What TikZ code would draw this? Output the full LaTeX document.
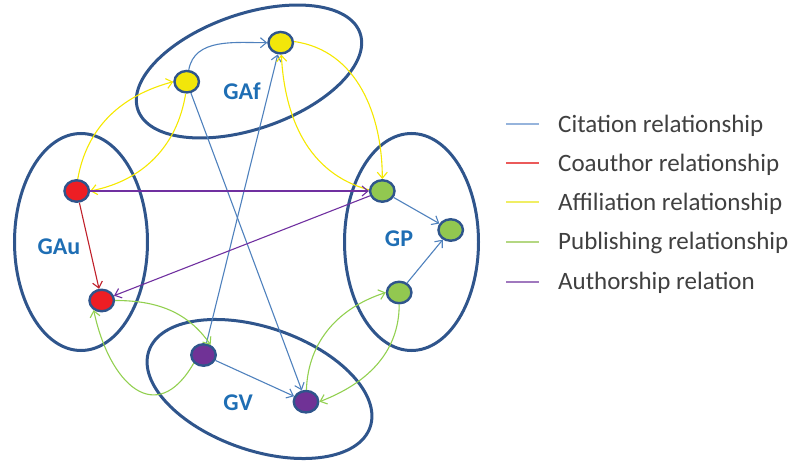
\documentclass[tikz,border=0pt]{standalone}
\usepackage{fontspec}
\setmainfont{Carlito}
\usetikzlibrary{arrows.meta,shapes.geometric}

\definecolor{grpblue}{RGB}{47,85,140}
\definecolor{lblblue}{RGB}{30,110,180}
\definecolor{citeC}{RGB}{79,129,189}
\definecolor{coauC}{RGB}{192,32,42}
\definecolor{affC}{RGB}{245,232,0}
\definecolor{pubC}{RGB}{146,208,80}
\definecolor{authC}{RGB}{112,48,160}
\definecolor{fillY}{RGB}{242,230,10}
\definecolor{fillR}{RGB}{237,30,36}
\definecolor{fillG}{RGB}{146,200,80}
\definecolor{fillP}{RGB}{112,50,150}
\definecolor{keyblue}{RGB}{150,180,220}
\definecolor{keyred}{RGB}{235,90,90}
\definecolor{keyyellow}{RGB}{240,238,100}
\definecolor{keygreen}{RGB}{180,215,130}
\definecolor{keypurple}{RGB}{160,120,190}
\definecolor{legText}{RGB}{64,64,64}

\begin{document}
\begin{tikzpicture}[x=1pt,y=1pt,
  group/.style={ellipse, draw=grpblue, line width=3pt, inner sep=0pt},
  vert/.style={ellipse, draw=grpblue, line width=2.4pt, inner sep=0pt,
    minimum width=24.5pt, minimum height=21.5pt},
  glabel/.style={text=lblblue, inner sep=0pt,
    font=\fontsize{24}{28}\selectfont\bfseries},
  rel/.style={line width=1.1pt, -{Straight Barb[length=6pt,width=10pt]}},
  cite/.style={rel, draw=citeC},
  coau/.style={rel, draw=coauC},
  aff/.style={rel, draw=affC},
  pub/.style={rel, draw=pubC},
  auth/.style={rel, draw=authC},
  legline/.style={line width=2pt},
  legtext/.style={anchor=base west, inner sep=0pt, text=legText,
    font=\fontsize{25}{30}\selectfont}
]
\useasboundingbox (0,0) rectangle (795,-468);

% groups
\node[group, minimum width=235, minimum height=115, rotate=19] (gaf) at (249,-71.5) {};
\node[group, minimum width=133, minimum height=217] (gau) at (81,-242) {};
\node[group, minimum width=134, minimum height=217] (gp) at (411.5,-242) {};
\node[group, minimum width=234, minimum height=123, rotate=-19] (gv) at (259.5,-389) {};

% group labels
\node[glabel] (lgaf) at (242,-90.8) {GAf};
\node[glabel] (lgau) at (59,-247) {GAu};
\node[glabel] (lgp) at (399,-238.8) {GP};
\node[glabel] (lgv) at (238,-403) {GV};

% vertices
\node[vert, fill=fillY] (y1) at (186.7,-81.7) {};
\node[vert, fill=fillY] (y2) at (280.7,-42.7) {};
\node[vert, fill=fillR] (r1) at (76.7,-191) {};
\node[vert, fill=fillR] (r2) at (101.7,-300.5) {};
\node[vert, fill=fillG] (g1) at (382.3,-191) {};
\node[vert, fill=fillG] (g2) at (450.7,-230) {};
\node[vert, fill=fillG] (g3) at (399.2,-292.5) {};
\node[vert, fill=fillP] (v1) at (203.5,-355) {};
\node[vert, fill=fillP] (v2) at (306,-401.7) {};

% citation
\draw[cite] (y1.80) to[out=80,in=180] (y2.180);
\draw[cite] (y1) -- (v2);
\draw[cite] (v1) -- (y2);
\draw[cite] (v1) -- (v2);
\draw[cite] (g1) -- (g2);
\draw[cite] (g3) -- (g2);

% coauthor
\draw[coau] (r1) -- (r2);

% affiliation
\draw[aff] (r1.85) to[out=80,in=195] (y1.180);
\draw[aff] (y1.-95) to[out=-99,in=11] (r1.0);
\draw[aff] (y2.5) to[out=-8,in=90] (g1.90);
\draw[aff] (g1.175) to[out=165,in=-87] (y2.-87);

% authorship
\draw[auth] (r1) -- (g1);
\draw[auth] (g1) -- (r2);

% publishing
\draw[pub] (r2.0) to[out=0,in=125] (v1.55);
\draw[pub] (v1.-140) to[out=-120,in=-78,looseness=1.7] (r2.-130);
\draw[pub] (v2.88) to[out=88,in=198] (g3.180);
\draw[pub] (g3.-90) to[out=-90,in=21] (v2.0);

% legend
\coordinate (k1a) at (506,-124.3); \coordinate (k1b) at (539,-124.3);
\coordinate (k2a) at (506,-163.3); \coordinate (k2b) at (539,-163.3);
\coordinate (k3a) at (506,-202.3); \coordinate (k3b) at (539,-202.3);
\coordinate (k4a) at (506,-241.7); \coordinate (k4b) at (539,-241.7);
\coordinate (k5a) at (506,-281.7); \coordinate (k5b) at (539,-281.7);
\draw[legline, draw=keyblue] (k1a) -- (k1b);
\draw[legline, draw=keyred] (k2a) -- (k2b);
\draw[legline, draw=keyyellow] (k3a) -- (k3b);
\draw[legline, draw=keygreen] (k4a) -- (k4b);
\draw[legline, draw=keypurple] (k5a) -- (k5b);
\node[legtext] (t1) at (558,-132.3) {Citation relationship};
\node[legtext] (t2) at (558,-171.3) {Coauthor relationship};
\node[legtext] (t3) at (558,-210.3) {Affiliation relationship};
\node[legtext] (t4) at (558,-249.7) {Publishing relationship};
\node[legtext] (t5) at (558,-289.7) {Authorship relation};
\end{tikzpicture}
\end{document}
